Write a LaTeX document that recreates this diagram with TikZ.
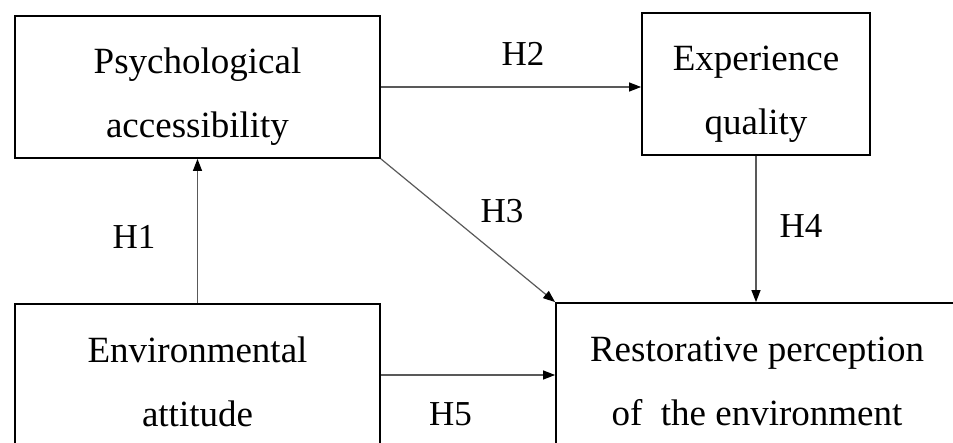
\documentclass[tikz,border=0pt]{standalone}
\usepackage{fontspec}
\setmainfont{Liberation Serif}
\usetikzlibrary{arrows.meta}

\newcommand{\topstrut}{\rule{0pt}{46pt}}
\newcommand{\botstrut}{\rule[-8pt]{0pt}{8pt}}

\tikzset{
  factor/.style={draw,line width=1.8pt,align=center,minimum height=142pt,
    font=\fontsize{37}{64}\selectfont},
  hyp/.style={line width=1.2pt,draw=black!65,-{Triangle[length=12pt,width=9pt,black]}},
  hlabel/.style={inner sep=0pt,font=\fontsize{35}{42}\selectfont}
}

\begin{document}
\begin{tikzpicture}[x=1pt,y=1pt]
    \useasboundingbox (0,0) rectangle (953,442);
    \clip (0,0) rectangle (953,442);
    % factors
    \node[factor,minimum width=365pt] (pa) at (197.5,355) {\topstrut Psychological\\accessibility\botstrut};
    \node[factor,minimum width=228pt] (eq) at (756,358) {\topstrut Experience\\quality\botstrut};
    \node[factor,minimum width=365pt] (ea) at (197.5,67) {\topstrut Environmental\\attitude\botstrut};
    \node[factor,minimum width=402pt] (rp) at (757,68) {\topstrut Restorative perception\\of~ the environment\botstrut};
    % hypotheses
    \draw[hyp] (ea.north) -- (pa.south) node[hlabel,pos=0.46,left=41.5pt] (h1) {H1};
    \draw[hyp] (pa.east) -- (pa.east -| eq.west) node[hlabel,pos=0.546,above=21pt] (h2) {H2};
    \draw[hyp] (pa.south east) -- (rp.north west) node[hlabel,pos=0.5,xshift=34pt,yshift=19.5pt] (h3) {H3};
    \draw[hyp] (eq.south) -- (eq.south |- rp.north) node[hlabel,pos=0.48,right=23pt] (h4) {H4};
    \draw[hyp] (ea.east) -- (ea.east -| rp.west) node[hlabel,pos=0.4,below=27pt] (h5) {H5};
\end{tikzpicture}
\end{document}
